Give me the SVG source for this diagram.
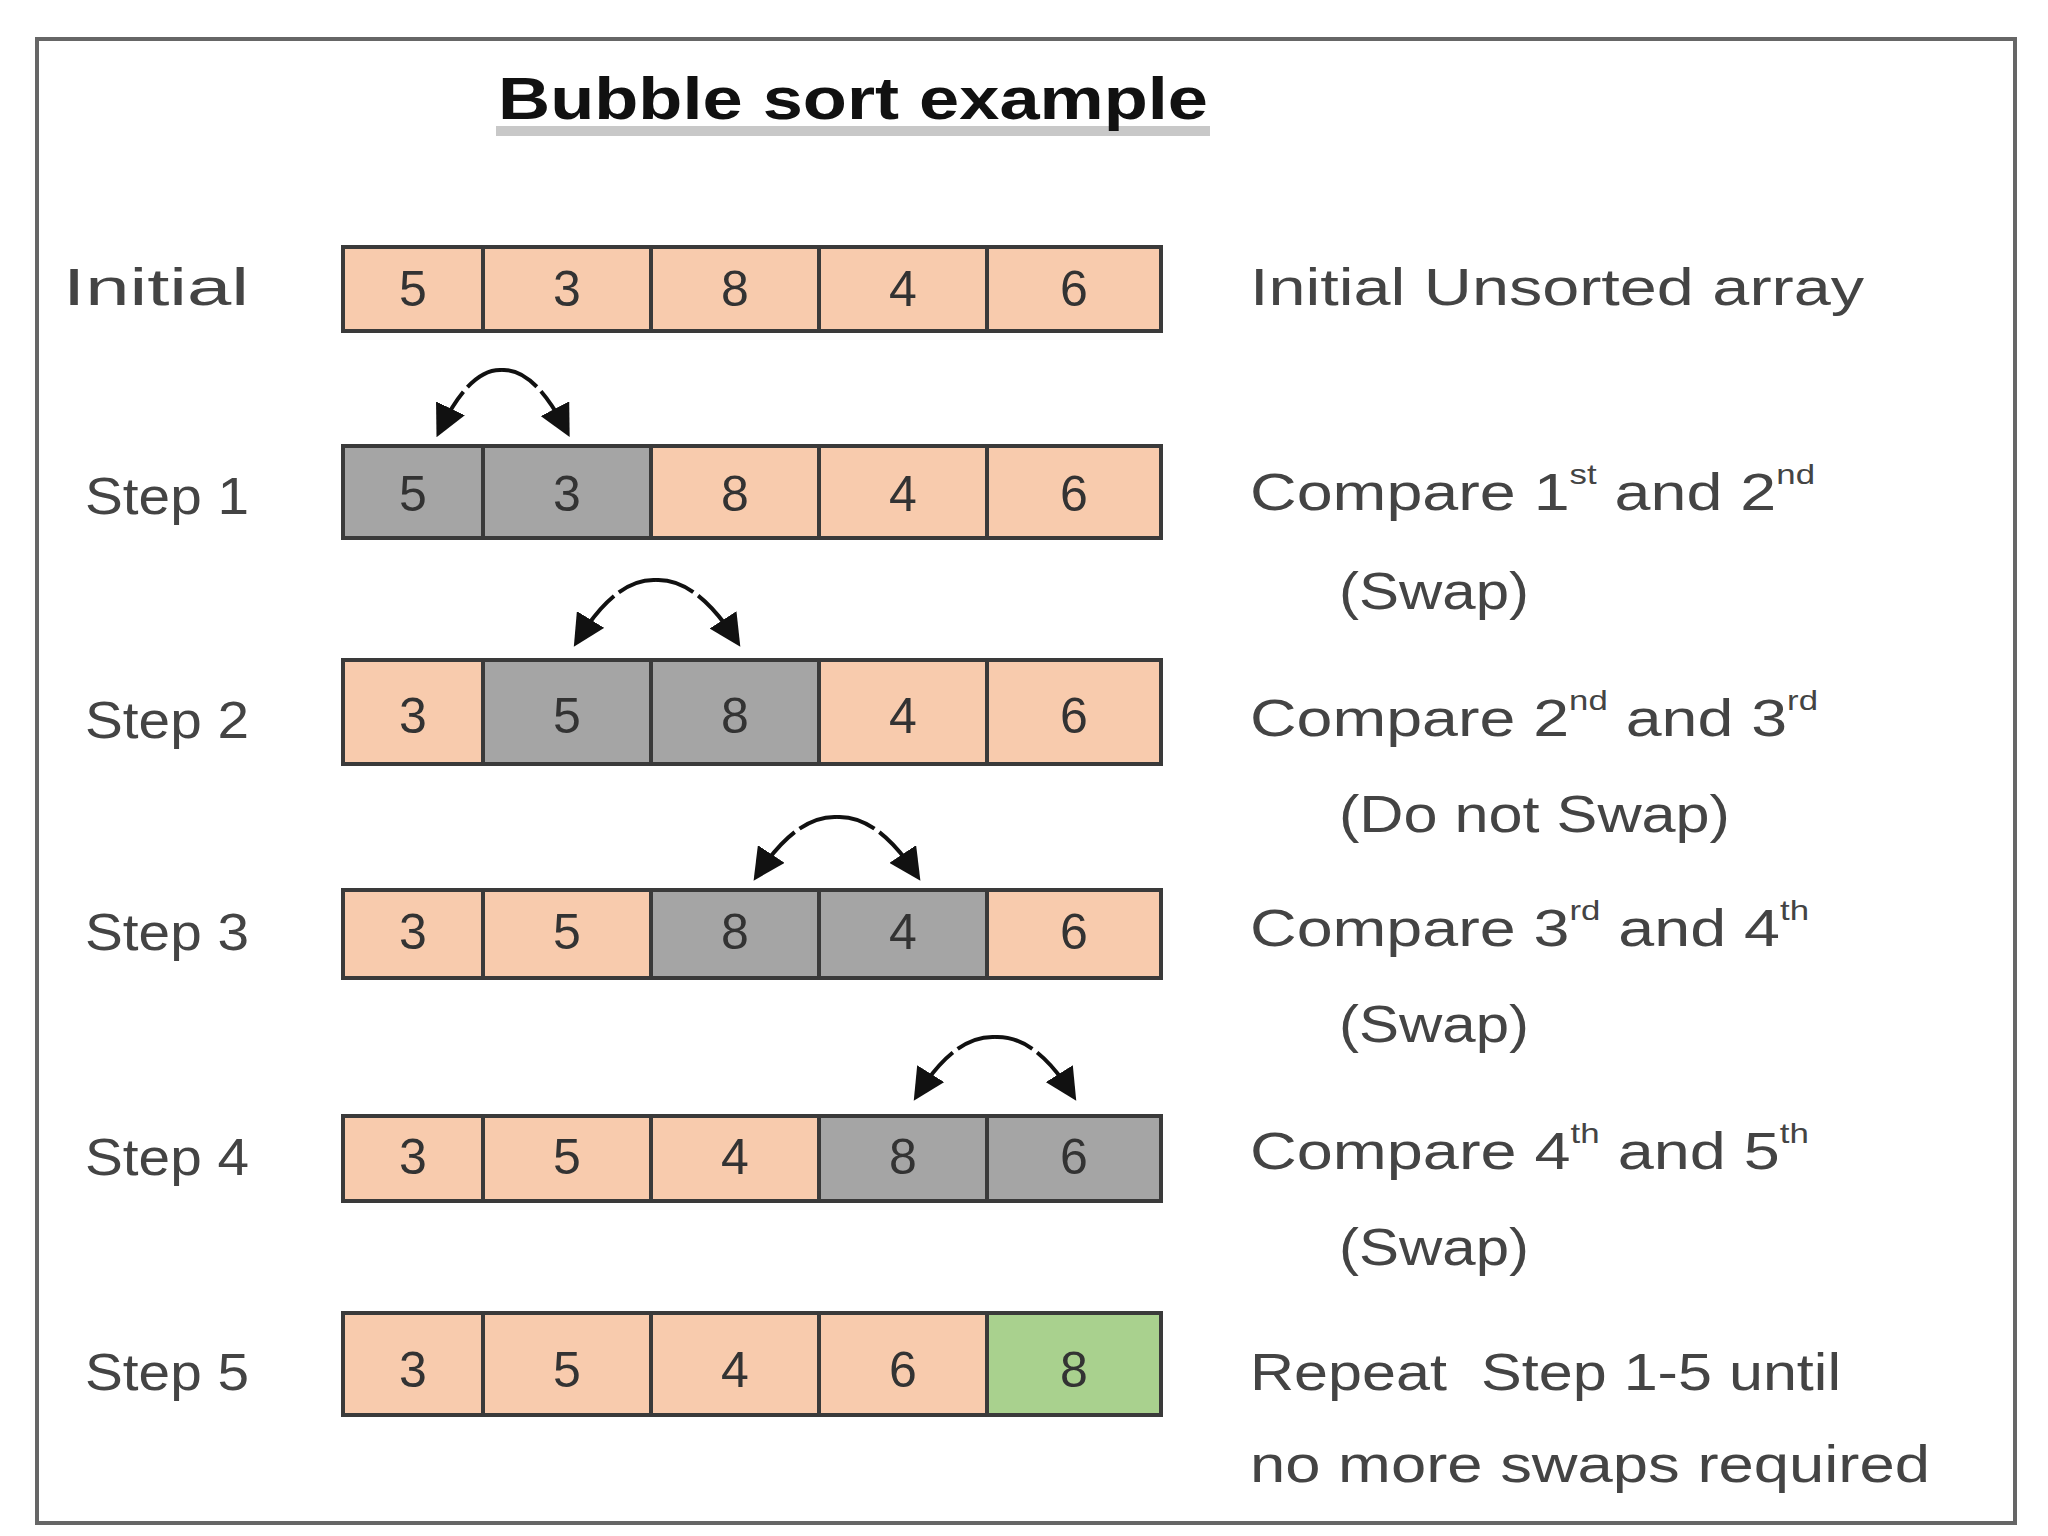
<svg xmlns="http://www.w3.org/2000/svg" width="2048" height="1536" viewBox="0 0 2048 1536">
<style>
.c{stroke:#3a3a3a;stroke-width:4}
.p{fill:#f8cbad}.g{fill:#a5a5a5}.gr{fill:#a9d18e}
.v{font-family:"Liberation Sans",Arial,sans-serif;font-size:50px;fill:#333;text-anchor:middle;dominant-baseline:central}
.l{font-family:"Liberation Sans",Arial,sans-serif;font-size:52px;fill:#444;dominant-baseline:central}
.a{fill:none;stroke:#111;stroke-width:4;stroke-dasharray:40 6;marker-end:url(#ah)}
</style>
<defs><marker id="ah" markerWidth="8" markerHeight="8" refX="6" refY="4" orient="auto" markerUnits="strokeWidth"><path d="M0,0 L8,4 L0,8 z" fill="#111"/></marker></defs>
<rect x="37" y="39" width="1978" height="1484" fill="#fff" stroke="#666" stroke-width="4"/>
<rect x="496" y="126" width="714" height="10" fill="#c8c8c8"/>
<text x="498" y="98" textLength="710" lengthAdjust="spacingAndGlyphs" font-family="Liberation Sans,Arial,sans-serif" font-size="60" font-weight="bold" dominant-baseline="central" fill="#111">Bubble sort example</text>
<g id="row0">
<text class="l" x="63" y="287" textLength="186" lengthAdjust="spacingAndGlyphs">Initial</text>
<rect class="c p" x="343" y="247" width="140" height="84"/><rect class="c p" x="483" y="247" width="168" height="84"/><rect class="c p" x="651" y="247" width="168" height="84"/><rect class="c p" x="819" y="247" width="168" height="84"/><rect class="c p" x="987" y="247" width="174" height="84"/>
<text class="v" x="413" y="289">5</text><text class="v" x="567" y="289">3</text><text class="v" x="735" y="289">8</text><text class="v" x="903" y="289">4</text><text class="v" x="1074" y="289">6</text>
<text class="l" x="1250" y="287" textLength="614" lengthAdjust="spacingAndGlyphs">Initial Unsorted array</text>
</g>
<g id="row1">
<text class="l" x="85" y="496" textLength="164" lengthAdjust="spacingAndGlyphs">Step 1</text>
<rect class="c g" x="343" y="446" width="140" height="92"/><rect class="c g" x="483" y="446" width="168" height="92"/><rect class="c p" x="651" y="446" width="168" height="92"/><rect class="c p" x="819" y="446" width="168" height="92"/><rect class="c p" x="987" y="446" width="174" height="92"/>
<text class="v" x="413" y="494">5</text><text class="v" x="567" y="494">3</text><text class="v" x="735" y="494">8</text><text class="v" x="903" y="494">4</text><text class="v" x="1074" y="494">6</text>
<text class="l" x="1250" y="492" textLength="565" lengthAdjust="spacingAndGlyphs">Compare 1<tspan font-size="28" dy="-18">st</tspan><tspan dy="18"> and 2</tspan><tspan font-size="28" dy="-18">nd</tspan></text>
<text class="l" x="1339" y="591" textLength="190" lengthAdjust="spacingAndGlyphs">(Swap)</text>
</g>
<g id="row2">
<text class="l" x="85" y="720" textLength="164" lengthAdjust="spacingAndGlyphs">Step 2</text>
<rect class="c p" x="343" y="660" width="140" height="104"/><rect class="c g" x="483" y="660" width="168" height="104"/><rect class="c g" x="651" y="660" width="168" height="104"/><rect class="c p" x="819" y="660" width="168" height="104"/><rect class="c p" x="987" y="660" width="174" height="104"/>
<text class="v" x="413" y="716">3</text><text class="v" x="567" y="716">5</text><text class="v" x="735" y="716">8</text><text class="v" x="903" y="716">4</text><text class="v" x="1074" y="716">6</text>
<text class="l" x="1250" y="718" textLength="568" lengthAdjust="spacingAndGlyphs">Compare 2<tspan font-size="28" dy="-18">nd</tspan><tspan dy="18"> and 3</tspan><tspan font-size="28" dy="-18">rd</tspan></text>
<text class="l" x="1339" y="814" textLength="391" lengthAdjust="spacingAndGlyphs">(Do not Swap)</text>
</g>
<g id="row3">
<text class="l" x="85" y="932" textLength="164" lengthAdjust="spacingAndGlyphs">Step 3</text>
<rect class="c p" x="343" y="890" width="140" height="88"/><rect class="c p" x="483" y="890" width="168" height="88"/><rect class="c g" x="651" y="890" width="168" height="88"/><rect class="c g" x="819" y="890" width="168" height="88"/><rect class="c p" x="987" y="890" width="174" height="88"/>
<text class="v" x="413" y="932">3</text><text class="v" x="567" y="932">5</text><text class="v" x="735" y="932">8</text><text class="v" x="903" y="932">4</text><text class="v" x="1074" y="932">6</text>
<text class="l" x="1250" y="928" textLength="559" lengthAdjust="spacingAndGlyphs">Compare 3<tspan font-size="28" dy="-18">rd</tspan><tspan dy="18"> and 4</tspan><tspan font-size="28" dy="-18">th</tspan></text>
<text class="l" x="1339" y="1024" textLength="190" lengthAdjust="spacingAndGlyphs">(Swap)</text>
</g>
<g id="row4">
<text class="l" x="85" y="1157" textLength="164" lengthAdjust="spacingAndGlyphs">Step 4</text>
<rect class="c p" x="343" y="1116" width="140" height="85"/><rect class="c p" x="483" y="1116" width="168" height="85"/><rect class="c p" x="651" y="1116" width="168" height="85"/><rect class="c g" x="819" y="1116" width="168" height="85"/><rect class="c g" x="987" y="1116" width="174" height="85"/>
<text class="v" x="413" y="1157">3</text><text class="v" x="567" y="1157">5</text><text class="v" x="735" y="1157">4</text><text class="v" x="903" y="1157">8</text><text class="v" x="1074" y="1157">6</text>
<text class="l" x="1250" y="1151" textLength="559" lengthAdjust="spacingAndGlyphs">Compare 4<tspan font-size="28" dy="-18">th</tspan><tspan dy="18"> and 5</tspan><tspan font-size="28" dy="-18">th</tspan></text>
<text class="l" x="1339" y="1247" textLength="190" lengthAdjust="spacingAndGlyphs">(Swap)</text>
</g>
<g id="row5">
<text class="l" x="85" y="1372" textLength="164" lengthAdjust="spacingAndGlyphs">Step 5</text>
<rect class="c p" x="343" y="1313" width="140" height="102"/><rect class="c p" x="483" y="1313" width="168" height="102"/><rect class="c p" x="651" y="1313" width="168" height="102"/><rect class="c p" x="819" y="1313" width="168" height="102"/><rect class="c gr" x="987" y="1313" width="174" height="102"/>
<text class="v" x="413" y="1370">3</text><text class="v" x="567" y="1370">5</text><text class="v" x="735" y="1370">4</text><text class="v" x="903" y="1370">6</text><text class="v" x="1074" y="1370">8</text>
<text class="l" x="1250" y="1372" xml:space="preserve" textLength="591" lengthAdjust="spacingAndGlyphs">Repeat  Step 1-5 until</text>
<text class="l" x="1250" y="1464" textLength="680" lengthAdjust="spacingAndGlyphs">no more swaps required</text>
</g>
<g id="connectors">
<path class="a" d="M502,370 Q470,368 440,430"/><path class="a" d="M502,370 Q534,368 566,430"/>
<path class="a" d="M656,580 Q616,578 578,640"/><path class="a" d="M656,580 Q696,578 736,640"/>
<path class="a" d="M837,817 Q797,815 758,874"/><path class="a" d="M837,817 Q877,815 916,874"/>
<path class="a" d="M995,1037 Q955,1035 918,1094"/><path class="a" d="M995,1037 Q1035,1035 1072,1094"/>
</g>
</svg>
